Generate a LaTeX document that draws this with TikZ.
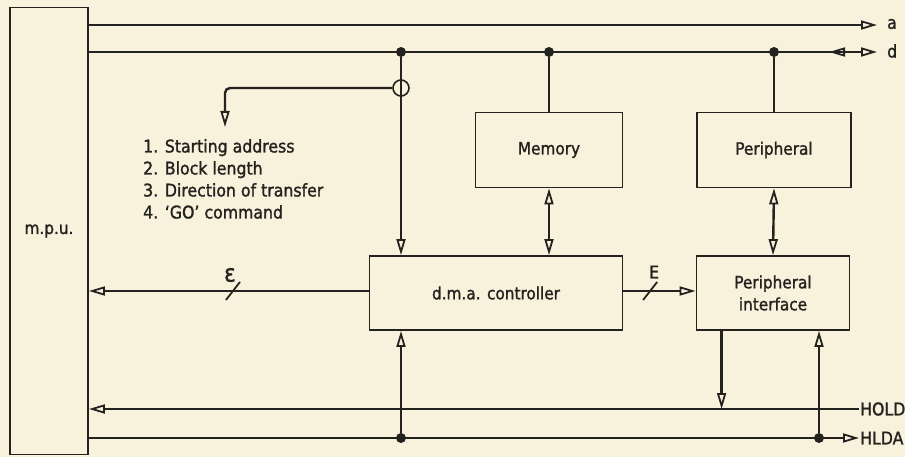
\documentclass[tikz,border=0pt]{standalone}
\usepackage{fontspec}
\setmainfont{DejaVu Sans Condensed}[BoldFont={DejaVu Sans Condensed}, BoldFeatures={FakeBold=1.4}]
\usetikzlibrary{arrows.meta, positioning, calc}
\definecolor{paper}{RGB}{248,242,221}
\definecolor{ink}{RGB}{36,34,30}
\tikzset{
    block/.style={
        rectangle, draw=ink, line width=1.8pt,
        inner sep=0pt, align=center, text=ink,
        font=\fontsize{17}{22}\selectfont\bfseries
    },
    lbl/.style={font=\fontsize{17.5}{22}\selectfont\bfseries, text=ink, inner sep=1pt},
    bus/.style={draw=ink, line width=2.4pt},
    arrow/.style={bus, ->},
    biarrow/.style={bus, <->},
    dot/.style={circle, fill=ink, inner sep=0pt, minimum size=10pt},
    ring/.style={circle, draw=ink, line width=1.6pt, inner sep=0pt, minimum size=16pt},
    tick/.style={draw=ink, line width=1.8pt}
}

\begin{document}
\begin{tikzpicture}[x=1pt, y=-1pt, >={Triangle[open, length=16pt, width=9pt, line width=1.8pt]}]
    \fill[paper] (0,0) rectangle (905,457);
    \useasboundingbox (0,0) rectangle (905,457);

    % blocks
    \node[block, minimum width=78pt, minimum height=447pt] (mpu) at (49,231) {m.p.u.};
    \node[block, minimum width=147pt, minimum height=75pt] (mem) at (549,150) {Memory};
    \node[block, minimum width=154pt, minimum height=75pt] (per) at (774,150) {Peripheral};
    \node[block, minimum width=253pt, minimum height=74pt] (dma) at (496,293) {d.m.a. controller};
    \node[block, minimum width=153pt, minimum height=74pt] (pi) at (773,293) {Peripheral\\interface};

    % address and data bus
    \coordinate (aend) at (877,25);
    \coordinate (dend) at (877,52);
    \coordinate (dback) at (829,52);
    \node[lbl, anchor=west] (alab) at (886,24) {a};
    \node[lbl, anchor=west] (dlab) at (886,51) {d};
    \draw[arrow] (mpu.east |- aend) -- (aend);
    \draw[arrow] (mpu.east |- dend) -- (dend);
    \draw[arrow] ($(dback)+(17,0)$) -- (dback);

    \node[dot] (j1) at (401,52) {};
    \node[dot] (j2) at (549,52) {};
    \node[dot] (j3) at (774,52) {};
    \node[ring] (tap) at (401,88) {};
    \draw[bus] (j2) -- (mem);
    \draw[bus] (j3) -- (per);
    \draw[arrow] (j1) -- (j1 |- dma.north);

    % programming the controller
    \coordinate (listtip) at (225,127);
    \draw[arrow, rounded corners=5pt] (tap.west) -| (listtip);
    \node[lbl, anchor=north west, align=left] (list) at (142,138)
        {1. Starting address\\2. Block length\\3. Direction of transfer\\4. `GO' command};

    \draw[biarrow] (mem.south) -- (mem.south |- dma.north);
    \draw[biarrow] (per.south) -- (pi.north);

    % E lines
    \draw[arrow] (dma.west |- 0,291) -- (mpu.east |- 0,291) coordinate[pos=0.485] (e1);
    \draw[tick] ($(e1)+(-7,9)$) -- ($(e1)+(7,-9)$);
    \node[lbl, font=\fontsize{24}{24}\selectfont\bfseries] (e1lab) at ($(e1)+(-3,-16)$) {ε};
    \draw[arrow] (dma.east |- 0,291) -- (pi.west |- 0,291) coordinate[pos=0.37] (e2);
    \draw[tick] ($(e2)+(-7,9)$) -- ($(e2)+(7,-9)$);
    \node[lbl] (e2lab) at ($(e2)+(4,-19)$) {E};

    % HOLD / HLDA
    \node[lbl, anchor=west] (hold) at (859,409) {HOLD};
    \node[lbl, anchor=west] (hlda) at (859,438) {HLDA};
    \draw[arrow] (hold.west) -- (mpu.east |- hold.west);
    \draw[arrow] (mpu.east |- hlda.west) -- (hlda.west);
    \coordinate (piout) at ($(pi.south west)+(26,0)$);
    \draw[arrow] (piout) -- (piout |- hold.west);
    \node[dot] (k1) at (401,438) {};
    \node[dot] (k2) at (819,438) {};
    \draw[arrow] (k1) -- (k1 |- dma.south);
    \draw[arrow] (k2) -- (k2 |- pi.south);
\end{tikzpicture}
\end{document}
